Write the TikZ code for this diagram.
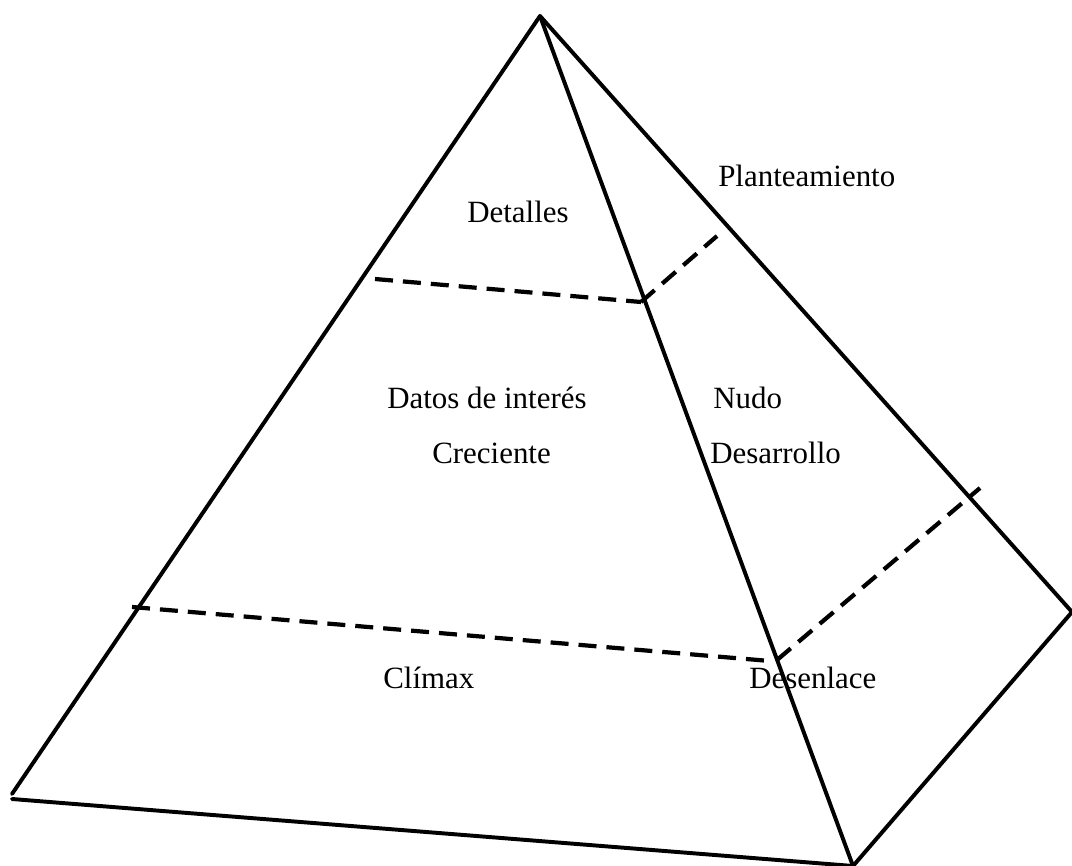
\documentclass[tikz,border=0pt]{standalone}
\usepackage{fontspec}
\setmainfont{Liberation Serif}
\tikzset{
  edge/.style={line width=2.8pt, line cap=round},
  cut/.style={line width=3pt, dash pattern=on 0.45cm off 0.25cm},
  lbl/.style={anchor=base west, inner sep=0pt, font=\fontsize{22}{26}\selectfont},
}

\begin{document}
\begin{tikzpicture}[x=0.025cm, y=-0.025cm]
\useasboundingbox (0,0) rectangle (1072,866);
% corners of the pyramid
\coordinate (apex) at (540,16);
\coordinate (lft) at (12,794);
\coordinate (lfb) at (12,799);
\coordinate (frt) at (853,866);
\coordinate (rgt) at (1072,612);
% ends of the cuts
\coordinate (u1) at (375,279);
\coordinate (u2) at (641,302);
\coordinate (u3) at (717,236);
\coordinate (l1) at (132,607);
\coordinate (l2) at (770,661);
\coordinate (l3) at (777,660);
\coordinate (l4) at (980,488);

\draw[edge] (apex) -- (lft);
\draw[edge] (lfb) -- (frt);
\draw[edge] (apex) -- (frt);
\draw[edge] (apex) -- (rgt) -- (frt);

\draw[cut] (u1) -- (u2);
\draw[cut] (u2) -- (u3);
\draw[cut] (l1) -- (l2);
\draw[cut] (l3) -- (l4);

\node[lbl] (det) at (467,223) {Detalles};
\node[lbl] (pla) at (718,187) {Planteamiento};
\node[lbl] (dat) at (387,408) {Datos de interés};
\node[lbl] (nud) at (713,408) {Nudo};
\node[lbl] (cre) at (432,463) {Creciente};
\node[lbl] (des) at (710,463) {Desarrollo};
\node[lbl] (cli) at (383,688) {Clímax};
\node[lbl] (den) at (749,688) {Desenlace};
\end{tikzpicture}
\end{document}
